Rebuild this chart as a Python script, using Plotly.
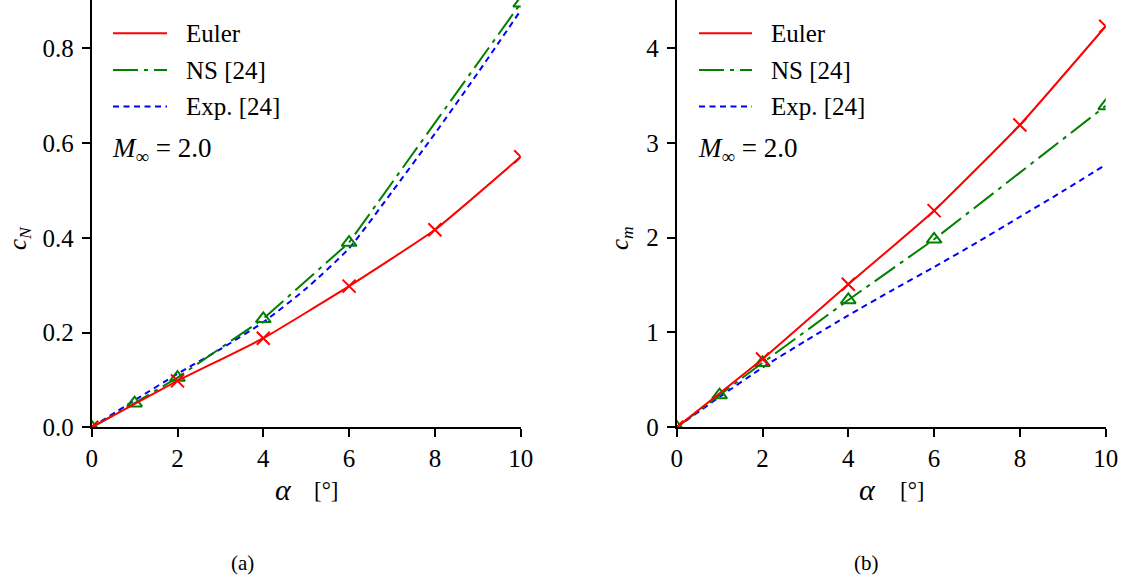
import plotly.graph_objects as go

# ---------------- data ----------------
alpha_euler = [0, 2, 4, 6, 8, 10]
cn_euler = [0.0, 0.098, 0.188, 0.298, 0.417, 0.571]
cm_euler = [0.0, 0.72, 1.508, 2.285, 3.189, 4.23]

alpha_ns = [0, 1, 2, 4, 6, 10]
cn_ns = [0.0, 0.051, 0.105, 0.229, 0.39, 0.895]
cm_ns = [0.0, 0.34, 0.68, 1.343, 1.983, 3.39]

alpha_exp = [0, 1, 2, 3, 4, 5, 6, 7, 8, 9, 10]
cn_exp = [0.0, 0.057, 0.113, 0.165, 0.222, 0.293, 0.378, 0.497, 0.62, 0.748, 0.88]
cm_exp = [0.0, 0.32, 0.63, 0.91, 1.18, 1.44, 1.69, 1.95, 2.22, 2.49, 2.77]

series_names = ["Euler", "NS [24]", "Exp. [24]"]
x_ticks = [0, 2, 4, 6, 8, 10]
cn_ticks = [0.0, 0.2, 0.4, 0.6, 0.8]
cm_ticks = [0, 1, 2, 3, 4]

RED, GREEN, BLUE = "#ff0000", "#008000", "#0000ff"
DASH_NS = "25px,6px,4px,6px"
DASH_EXP = "6px,4.5px"
FONT = "Liberation Serif, DejaVu Serif, serif"
W, H = 1129, 584


def px(x):
    return x / W


def py(y):
    return 1 - y / H


fig = go.Figure()

for xa, ya, ce, cn, cx in [("x", "y", cn_euler, cn_ns, cn_exp),
                           ("x2", "y2", cm_euler, cm_ns, cm_exp)]:
    fig.add_trace(go.Scatter(
        x=alpha_exp, y=cx, xaxis=xa, yaxis=ya, mode="lines",
        line=dict(color=BLUE, width=2, dash=DASH_EXP, shape="spline", smoothing=0.6),
        name=series_names[2], showlegend=False))
    fig.add_trace(go.Scatter(
        x=alpha_ns, y=cn, xaxis=xa, yaxis=ya, mode="lines+markers",
        line=dict(color=GREEN, width=2, dash=DASH_NS),
        marker=dict(symbol="triangle-up-open", size=13, color=GREEN,
                    line=dict(width=2, color=GREEN)),
        name=series_names[1], showlegend=False))
    fig.add_trace(go.Scatter(
        x=alpha_euler, y=ce, xaxis=xa, yaxis=ya, mode="lines+markers",
        line=dict(color=RED, width=2, shape="spline", smoothing=0.4),
        marker=dict(symbol="x-thin-open", size=13, color=RED,
                    line=dict(width=2, color=RED)),
        name=series_names[0], showlegend=False))

axis_common = dict(
    showline=True, linecolor="black", linewidth=2, mirror=False,
    showgrid=False, zeroline=False, ticks="outside", ticklen=8,
    tickwidth=2, tickcolor="black", automargin=False,
    tickfont=dict(family=FONT, size=25, color="black"),
)

ydom = [py(427.3), 1.0]
fig.update_layout(
    template="none",
    width=W, height=H,
    margin=dict(l=0, r=0, t=0, b=0, pad=0, autoexpand=False),
    paper_bgcolor="white", plot_bgcolor="white",
    showlegend=False,
    xaxis=dict(domain=[px(91.7), px(520.7)], range=[0, 10], anchor="y",
               tickvals=x_ticks, ticklabelstandoff=0, **axis_common),
    yaxis=dict(domain=ydom, range=[0, 0.902], anchor="x",
               tickvals=cn_ticks, tickformat=".1f", ticklabelstandoff=3,
               **axis_common),
    xaxis2=dict(domain=[px(676.7), px(1105.7)], range=[0, 10], anchor="y2",
                tickvals=x_ticks, ticklabelstandoff=0, **axis_common),
    yaxis2=dict(domain=ydom, range=[0, 4.507], anchor="x2",
                tickvals=cm_ticks, ticklabelstandoff=3, **axis_common),
)

annotations = []
shapes = []


def text(x, y, s, size=25, xanchor="center", angle=0):
    annotations.append(dict(
        x=px(x), y=py(y), xref="paper", yref="paper", text=s, showarrow=False,
        xanchor=xanchor, yanchor="middle", textangle=angle, borderpad=0,
        font=dict(family=FONT, size=size, color="black")))


# axis titles
text(20, 238, "<i>c<sub>N</sub></i>", size=25, angle=-90)
text(622, 238, "<i>c<sub>m</sub></i>", size=25, angle=-90)
for ax_x, br_x in [(283, 326), (867, 912)]:
    text(ax_x, 489, "<i>α</i>", size=30)
    text(br_x, 490, "[°]", size=23)
text(242, 563, "(a)", size=21)
text(866, 563, "(b)", size=21)

# legends (drawn manually)
styles = [(RED, "solid"), (GREEN, DASH_NS), (BLUE, DASH_EXP)]
rows = [33.3, 70.0, 106.5]
for x0, x1, tx in [(113, 167, 185), (699, 752, 770)]:
    for (col, dash), ry, name in zip(styles, rows, series_names):
        shapes.append(dict(type="line", xref="paper", yref="paper",
                           x0=px(x0), x1=px(x1), y0=py(ry), y1=py(ry),
                           line=dict(color=col, width=2, dash=dash)))
        text(tx, ry, name, size=25, xanchor="left")
    text(x0 - 2, 150, "<i>M</i><sub>∞</sub> = 2.0", size=27, xanchor="left")

fig.update_layout(annotations=annotations, shapes=shapes)
fig.write_html("out.html")
